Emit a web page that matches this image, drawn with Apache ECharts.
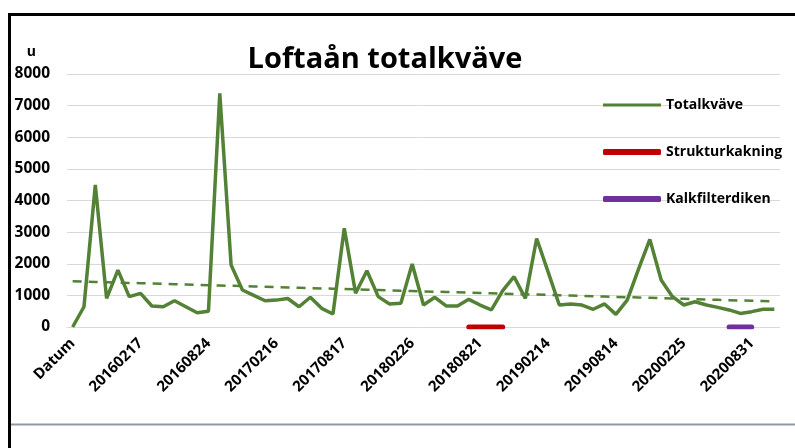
<!DOCTYPE html>
<html>
<head>
<meta charset="utf-8">
<script src="https://cdn.jsdelivr.net/npm/echarts@6/dist/echarts.min.js"></script>
<style>
  html, body { margin: 0; padding: 0; background: #fff; }
  #chart { width: 795px; height: 448px; }
</style>
</head>
<body>
<div id="chart"></div>
<script>
// tick labels, one every 6th sample (Excel shows every 6th category)
const tickLabels = ['Datum', '20160217', '20160824', '20170216', '20170817', '20180226',
  '20180821', '20190214', '20190814', '20200225', '20200831']

// Totalkväve (u)
const totalkvave = [
  0, 640, 4490, 905, 1800, 960, 1065, 665, 640, 830,
  640, 450, 500, 7390, 1960, 1170, 1000, 830, 850, 900,
  640, 940, 590, 410, 3120, 1065, 1780, 960, 730, 750,
  1990, 695, 940, 665, 665, 875, 695, 540, 1150, 1590,
  905, 2800, 1750, 695, 730, 695, 560, 730, 400, 850,
  1830, 2770, 1485, 960, 695, 800, 695, 620, 540, 430,
  485, 560, 560
]

// periods of the measures, as first/last sample index
const strukturkakning = [35, 38]
const kalkfilterdiken = [58, 60]

const categories = totalkvave.map((v, i) => (i % 6 === 0 ? tickLabels[i / 6] : ''))

// linear trendline (least squares) like Excel
function trend(vals) {
  const n = vals.length
  let sx = 0, sy = 0, sxx = 0, sxy = 0
  vals.forEach((y, x) => { sx += x; sy += y; sxx += x * x; sxy += x * y })
  const b = (n * sxy - sx * sy) / (n * sxx - sx * sx)
  const a = (sy - b * sx) / n
  return vals.map((y, x) => +(a + b * x).toFixed(1))
}

function period(range) {
  return categories.map((c, i) => (i >= range[0] && i <= range[1] ? 0 : null))
}

const font = '"Open Sans", Lato, sans-serif'
const chart = echarts.init(document.getElementById('chart'))

chart.setOption({
  animation: false,
  title: {
    text: 'Loftaån totalkväve',
    left: 380,
    textAlign: 'center',
    top: 40,
    textStyle: { fontFamily: font, fontSize: 29, fontWeight: 'bold', color: '#000' }
  },
  legend: {
    orient: 'vertical',
    left: 598,
    top: 90,
    itemGap: 27,
    itemWidth: 58,
    itemHeight: 6,
    itemStyle: { borderWidth: 0 },
    data: [
      { name: 'Totalkväve', icon: 'path://M0,0H58V3H0Z' },
      { name: 'Strukturkakning', icon: 'roundRect' },
      { name: 'Kalkfilterdiken', icon: 'roundRect' }
    ],
    textStyle: { fontFamily: font, fontSize: 14, fontWeight: 'bold', color: '#000', lineHeight: 20 }
  },
  grid: { left: 67, right: 15, top: 74, bottom: 121 },
  xAxis: {
    type: 'category',
    data: categories,
    boundaryGap: true,
    axisLine: { lineStyle: { color: '#d9d9d9' } },
    axisTick: { show: false },
    axisLabel: {
      interval: 5,
      rotate: 45,
      margin: 14,
      fontFamily: font,
      fontSize: 15,
      fontWeight: 'bold',
      color: '#000'
    }
  },
  yAxis: {
    type: 'value',
    min: 0,
    max: 8000,
    interval: 1000,
    name: 'u',
    nameGap: 15,
    nameTextStyle: { fontFamily: font, fontSize: 14, fontWeight: 'bold', color: '#000', align: 'right', padding: [0, 31, 0, 0] },
    axisLine: { show: false },
    axisTick: { show: false },
    splitLine: { lineStyle: { color: '#d9d9d9', width: 1 } },
    axisLabel: {
      margin: 17,
      formatter: v => String(v),
      fontFamily: font,
      fontSize: 15.5,
      fontWeight: 'bold',
      color: '#000'
    }
  },
  series: [
    {
      name: 'Totalkväve',
      type: 'line',
      data: totalkvave,
      symbol: 'none',
      itemStyle: { color: '#538135' },
      lineStyle: { color: '#538135', width: 3.5 },
      z: 3
    },
    {
      name: 'trend',
      type: 'line',
      data: trend(totalkvave),
      symbol: 'none',
      lineStyle: { color: '#538135', width: 2.5, type: [9, 7] },
      z: 2
    },
    {
      name: 'Strukturkakning',
      type: 'line',
      data: period(strukturkakning),
      symbol: 'none',
      itemStyle: { color: '#c00000' },
      lineStyle: { color: '#c00000', width: 5, cap: 'round' },
      z: 4
    },
    {
      name: 'Kalkfilterdiken',
      type: 'line',
      data: period(kalkfilterdiken),
      symbol: 'none',
      itemStyle: { color: '#7030a0' },
      lineStyle: { color: '#7030a0', width: 5, cap: 'round' },
      z: 4
    }
  ],
  graphic: [
    {
      type: 'rect',
      shape: { x: 9.5, y: 14.5, width: 820, height: 480 },
      style: { fill: 'none', stroke: '#000', lineWidth: 3 },
      silent: true
    },
    {
      type: 'line',
      shape: { x1: 11, y1: 424.5, x2: 795, y2: 424.5 },
      style: { stroke: '#8e99a8', lineWidth: 2 },
      silent: true
    }
  ]
})
</script>
</body>
</html>
